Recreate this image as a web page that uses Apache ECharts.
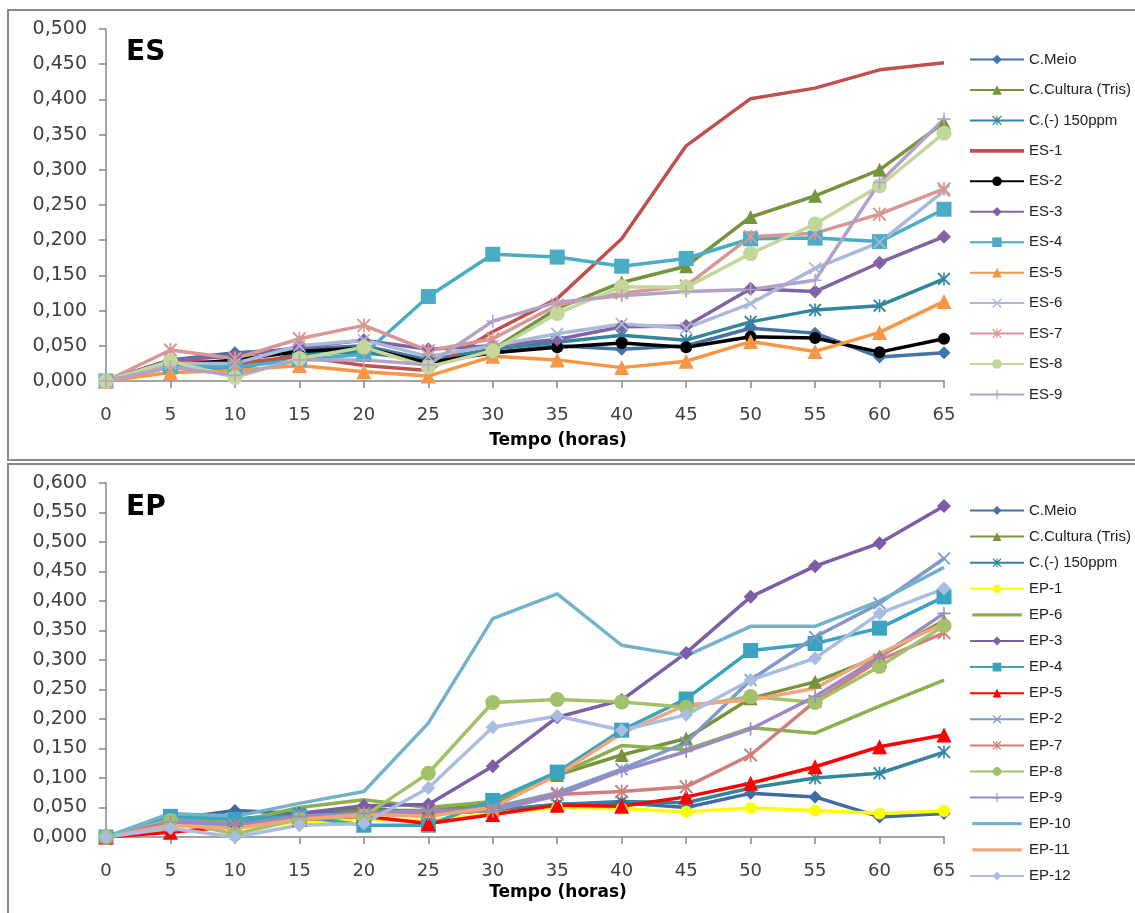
<!DOCTYPE html>
<html>
<head>
<meta charset="utf-8">
<script src="https://cdn.jsdelivr.net/npm/echarts@6/dist/echarts.min.js"></script>
<style>
  html, body { margin: 0; padding: 0; background: #fff; }
  #chart { width: 1135px; height: 913px; }
</style>
</head>
<body>
<div id="chart"></div>
<script>
// Sampling times (hours)
const hours = [0, 5, 10, 15, 20, 25, 30, 35, 40, 45, 50, 55, 60, 65];

// ES panel absorbance readings
const esMeio    = [0, 0.030, 0.040, 0.045, 0.050, 0.030, 0.040, 0.050, 0.045, 0.050, 0.075, 0.068, 0.034, 0.040];
const esCultura = [0, 0.020, 0.022, 0.035, 0.045, 0.028, 0.045, 0.103, 0.140, 0.163, 0.233, 0.263, 0.300, 0.367];
const esNeg     = [0, 0.025, 0.015, 0.040, 0.040, 0.030, 0.045, 0.055, 0.065, 0.058, 0.084, 0.101, 0.107, 0.145];
const es1 = [0, 0.030, 0.025, 0.035, 0.022, 0.015, 0.070, 0.117, 0.202, 0.334, 0.401, 0.416, 0.442, 0.452];
const es2 = [0, 0.022, 0.030, 0.042, 0.047, 0.026, 0.040, 0.048, 0.054, 0.048, 0.063, 0.061, 0.041, 0.060];
const es3 = [0, 0.030, 0.035, 0.048, 0.058, 0.045, 0.050, 0.059, 0.077, 0.078, 0.131, 0.127, 0.168, 0.205];
const es4 = [0, 0.020, 0.020, 0.030, 0.038, 0.120, 0.180, 0.176, 0.163, 0.174, 0.202, 0.203, 0.198, 0.244];
const es5 = [0, 0.012, 0.015, 0.022, 0.013, 0.007, 0.035, 0.030, 0.019, 0.028, 0.056, 0.042, 0.069, 0.113];
const es6 = [0, 0.025, 0.025, 0.050, 0.058, 0.035, 0.050, 0.067, 0.081, 0.075, 0.110, 0.160, 0.197, 0.270];
const es7 = [0, 0.044, 0.032, 0.060, 0.079, 0.043, 0.060, 0.108, 0.125, 0.135, 0.205, 0.210, 0.237, 0.273];
const es8 = [0, 0.028, 0.005, 0.032, 0.048, 0.020, 0.043, 0.096, 0.134, 0.133, 0.181, 0.223, 0.277, 0.352];
const es9 = [0, 0.020, 0.008, 0.030, 0.030, 0.023, 0.085, 0.112, 0.121, 0.127, 0.130, 0.143, 0.282, 0.372];

// EP panel absorbance readings
const epMeio    = [0, 0.030, 0.045, 0.040, 0.050, 0.040, 0.045, 0.055, 0.058, 0.050, 0.074, 0.068, 0.034, 0.040];
const epCultura = [0, 0.025, 0.025, 0.040, 0.045, 0.045, 0.055, 0.105, 0.139, 0.167, 0.235, 0.263, 0.306, 0.367];
const epNeg     = [0, 0.035, 0.030, 0.040, 0.040, 0.040, 0.045, 0.055, 0.060, 0.058, 0.083, 0.100, 0.108, 0.144];
const ep1  = [0, 0.020, 0.015, 0.025, 0.030, 0.028, 0.040, 0.050, 0.048, 0.043, 0.049, 0.045, 0.040, 0.044];
const ep6  = [0, 0.030, 0.025, 0.050, 0.063, 0.050, 0.060, 0.105, 0.155, 0.148, 0.185, 0.176, 0.222, 0.266];
const ep3  = [0, 0.025, 0.020, 0.040, 0.053, 0.055, 0.120, 0.203, 0.232, 0.312, 0.407, 0.459, 0.498, 0.561];
const ep4  = [0, 0.035, 0.030, 0.035, 0.020, 0.020, 0.062, 0.110, 0.181, 0.234, 0.316, 0.328, 0.354, 0.407];
const ep5  = [0, 0.008, 0.018, 0.030, 0.035, 0.023, 0.038, 0.054, 0.052, 0.068, 0.091, 0.119, 0.153, 0.173];
const ep2  = [0, 0.030, 0.020, 0.035, 0.040, 0.040, 0.050, 0.075, 0.115, 0.160, 0.266, 0.339, 0.396, 0.472];
const ep7  = [0, 0.020, 0.020, 0.030, 0.040, 0.040, 0.045, 0.072, 0.077, 0.085, 0.139, 0.230, 0.300, 0.346];
const ep8  = [0, 0.028, 0.005, 0.030, 0.035, 0.108, 0.228, 0.233, 0.229, 0.220, 0.238, 0.228, 0.289, 0.358];
const ep9  = [0, 0.025, 0.020, 0.035, 0.040, 0.045, 0.045, 0.070, 0.112, 0.145, 0.183, 0.238, 0.305, 0.379];
const ep10 = [0, 0.040, 0.035, 0.057, 0.077, 0.193, 0.370, 0.412, 0.325, 0.307, 0.357, 0.357, 0.400, 0.457];
const ep11 = [0, 0.020, 0.015, 0.030, 0.038, 0.035, 0.050, 0.105, 0.176, 0.224, 0.232, 0.252, 0.311, 0.362];
const ep12 = [0, 0.015, 0.000, 0.020, 0.023, 0.083, 0.186, 0.205, 0.181, 0.207, 0.266, 0.303, 0.379, 0.421];

// Marker glyphs not built into ECharts
const X_MARK = 'path://M0,1L1,0L5,4L9,0L10,1L6,5L10,9L9,10L5,6L1,10L0,9L4,5Z';
const STAR_MARK = 'path://M0,1L1,0L5,4L9,0L10,1L6,5L10,9L9,10L5,6L1,10L0,9L4,5Z M4.4,0H5.6V10H4.4Z';
const PLUS_MARK = 'path://M4.4,0H5.6V4.4H10V5.6H5.6V10H4.4V5.6H0V4.4H4.4Z';
// Plain line swatch for legend entries of series drawn without markers
const LINE_ICON = 'path://M0,0M0,12M0,4.2H54V7.8H0Z';

const FONT = 'DejaVu Sans';

function mkSeries(name, values, color, symbol, size, idx) {
  return {
    name: name,
    type: 'line',
    xAxisIndex: idx, yAxisIndex: idx,
    data: values.map((v, i) => [hours[i], v]),
    symbol: symbol,
    symbolSize: size,
    showSymbol: symbol !== 'none',
    lineStyle: { color: color, width: 3.5 },
    itemStyle: { color: color },
    emphasis: { disabled: true },
    animation: false
  };
}

const esSeries = [
  ['C.Meio', esMeio, '#4572A7', 'diamond', 13],
  ['C.Cultura (Tris)', esCultura, '#77933C', 'triangle', 14],
  ['C.(-) 150ppm', esNeg, '#31859C', STAR_MARK, 13],
  ['ES-1', es1, '#C0504D', 'none', 0],
  ['ES-2', es2, '#000000', 'circle', 12],
  ['ES-3', es3, '#8064A2', 'diamond', 14],
  ['ES-4', es4, '#4BACC6', 'rect', 15],
  ['ES-5', es5, '#F79646', 'triangle', 15],
  ['ES-6', es6, '#AAB9D9', X_MARK, 13],
  ['ES-7', es7, '#D99694', STAR_MARK, 14],
  ['ES-8', es8, '#C3D69B', 'circle', 15],
  ['ES-9', es9, '#B3A2C7', PLUS_MARK, 13]
];

const epSeries = [
  ['C.Meio', epMeio, '#3F6AA3', 'diamond', 13],
  ['C.Cultura (Tris)', epCultura, '#77933C', 'triangle', 14],
  ['C.(-) 150ppm', epNeg, '#31859C', STAR_MARK, 13],
  ['EP-1', ep1, '#FFFF00', 'circle', 12],
  ['EP-6', ep6, '#8DB04F', 'none', 0],
  ['EP-3', ep3, '#7B5EA6', 'diamond', 14],
  ['EP-4', ep4, '#3AA3BF', 'rect', 15],
  ['EP-5', ep5, '#FF0000', 'triangle', 15],
  ['EP-2', ep2, '#7F9AC9', X_MARK, 13],
  ['EP-7', ep7, '#D07F7C', STAR_MARK, 14],
  ['EP-8', ep8, '#A3C06B', 'circle', 15],
  ['EP-9', ep9, '#9A89C4', PLUS_MARK, 13],
  ['EP-10', ep10, '#72B3CB', 'none', 0],
  ['EP-11', ep11, '#F5A47C', 'none', 0],
  ['EP-12', ep12, '#AABDE0', 'diamond', 14]
];

const axisColor = '#878787';
const labelColor = '#404040';

function xAxisFor(idx) {
  return {
    gridIndex: idx,
    type: 'value',
    min: 0, max: 65, interval: 5,
    axisLine: { show: true, onZero: false, lineStyle: { color: axisColor, width: 1.5 } },
    axisTick: { show: true, length: 7, lineStyle: { color: axisColor, width: 1.5 } },
    axisLabel: { color: labelColor, fontSize: 18, fontFamily: FONT, margin: 25 },
    splitLine: { show: false }
  };
}

function yAxisFor(idx, max) {
  return {
    gridIndex: idx,
    type: 'value',
    min: 0, max: max, interval: 0.05,
    axisLine: { show: true, lineStyle: { color: axisColor, width: 1.5 } },
    axisTick: { show: true, length: 7, lineStyle: { color: axisColor, width: 1.5 } },
    axisLabel: {
      color: labelColor, fontSize: 19, fontFamily: FONT, margin: 19,
      formatter: v => v.toFixed(3).replace('.', ',')
    },
    splitLine: { show: false }
  };
}

const legendText = { color: '#222', fontSize: 15, fontFamily: 'Liberation Sans' };

function legendData(list) {
  return list.map(s => s[3] === 'none' ? { name: s[0], icon: LINE_ICON } : { name: s[0] });
}

const option = {
  backgroundColor: '#ffffff',
  animation: false,
  grid: [
    { left: 106, right: 1135 - 944, top: 29, height: 352 },
    { left: 106, right: 1135 - 944, top: 483, height: 354 }
  ],
  xAxis: [xAxisFor(0), xAxisFor(1)],
  yAxis: [yAxisFor(0, 0.5), yAxisFor(1, 0.6)],
  legend: [
    {
      data: legendData(esSeries),
      orient: 'vertical',
      left: 964, top: 47,
      itemWidth: 54, itemHeight: 12, itemGap: 15.45,
      textStyle: legendText,
      selectedMode: false
    },
    {
      data: legendData(epSeries),
      orient: 'vertical',
      left: 964, top: 498,
      itemWidth: 54, itemHeight: 11, itemGap: 11.1,
      textStyle: legendText,
      selectedMode: false
    }
  ],
  series: [
    ...esSeries.map(s => mkSeries(s[0], s[1], s[2], s[3], s[4], 0)),
    ...epSeries.map(s => mkSeries(s[0], s[1], s[2], s[3], s[4], 1))
  ],
  graphic: [
    // panel frames
    { type: 'rect', shape: { x: 8, y: 10, width: 1140, height: 450 },
      style: { fill: 'none', stroke: '#8a8a8a', lineWidth: 2 }, silent: true, z: -1 },
    { type: 'rect', shape: { x: 8, y: 464, width: 1140, height: 460 },
      style: { fill: 'none', stroke: '#8a8a8a', lineWidth: 2 }, silent: true, z: -1 },
    // panel tags
    { type: 'text', left: 126, top: 39,
      style: { text: 'ES', fill: '#000', font: 'bold 28px "DejaVu Sans"' } },
    { type: 'text', left: 126, top: 494,
      style: { text: 'EP', fill: '#000', font: 'bold 28px "DejaVu Sans"' } },
    // axis titles
    { type: 'text', x: 558, y: 441,
      style: { text: 'Tempo (horas)', fill: '#000', font: 'bold 17px "DejaVu Sans"',
               align: 'center', verticalAlign: 'middle' } },
    { type: 'text', x: 558, y: 893,
      style: { text: 'Tempo (horas)', fill: '#000', font: 'bold 17px "DejaVu Sans"',
               align: 'center', verticalAlign: 'middle' } }
  ]
};

const chart = echarts.init(document.getElementById('chart'), null, { renderer: 'canvas' });
chart.setOption(option);
</script>
</body>
</html>
